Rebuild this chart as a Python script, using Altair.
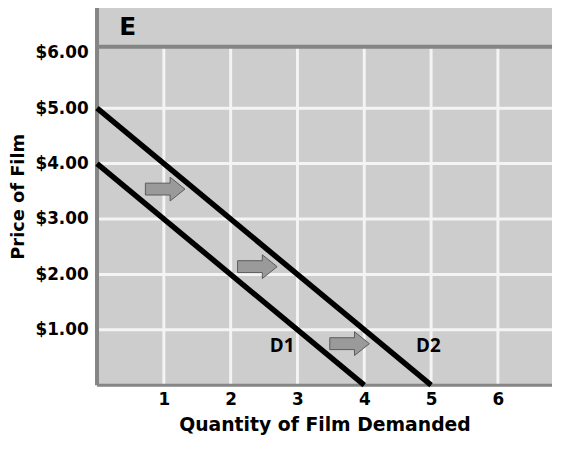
import altair as alt
import pandas as pd

# Demand curves (quantity, price)
d1_q = [0, 4]
d1_p = [4, 0]
d2_q = [0, 5]
d2_p = [5, 0]

# Shift arrows (quantity, price)
arrow_q = [1.02, 2.40, 3.78]
arrow_p = [3.54, 2.14, 0.75]

# Curve labels
label_text = ["D1", "D2"]
label_q = [2.77, 4.96]
label_p = [0.70, 0.70]

x_ticks = [1, 2, 3, 4, 5, 6]
y_ticks = [1, 2, 3, 4, 5, 6]
y_grid = [1, 2, 3, 4, 5]

XMAX = 6.81
YMAX = 6.82
BAND = 6.11

FONT = "DejaVu Sans"
FONT2 = "Open Sans"

xs = alt.Scale(domain=[0, XMAX], nice=False, zero=False)
ys = alt.Scale(domain=[0, YMAX], nice=False, zero=False)

axis_x = alt.Axis(
    values=x_ticks, format="d", grid=False, domain=False, ticks=False,
    labelPadding=7, title="Quantity of Film Demanded", titlePadding=8,
    titleFontSize=19,
)
axis_y = alt.Axis(
    values=y_ticks, format="$.2f", grid=False, domain=False, ticks=False,
    labelPadding=9, title="Price of Film", titlePadding=8,
    titleFontSize=18,
)


def X(field):
    return alt.X(field, type="quantitative", scale=xs, axis=axis_x)


def Y(field):
    return alt.Y(field, type="quantitative", scale=ys, axis=axis_y)


lines_df = pd.DataFrame({
    "q": d1_q + d2_q,
    "p": d1_p + d2_p,
    "curve": ["D1"] * len(d1_q) + ["D2"] * len(d2_q),
})

vgrid_df = pd.DataFrame({"q": x_ticks, "p0": [0] * len(x_ticks), "p1": [BAND] * len(x_ticks)})
hgrid_df = pd.DataFrame({"p": y_grid, "q0": [0] * len(y_grid), "q1": [XMAX] * len(y_grid)})

vgrid = alt.Chart(vgrid_df).mark_rule(color="#f4f4f4", strokeWidth=3).encode(
    x=X("q"), y=Y("p0"), y2="p1:Q"
)
hgrid = alt.Chart(hgrid_df).mark_rule(color="#f4f4f4", strokeWidth=3).encode(
    y=Y("p"), x=X("q0"), x2="q1:Q"
)

band_df = pd.DataFrame({"p0": [BAND - 0.035], "p1": [BAND + 0.035], "q0": [0], "q1": [XMAX]})
band = alt.Chart(band_df).mark_rect(color="#858585").encode(
    y=Y("p0"), y2="p1:Q", x=X("q0"), x2="q1:Q"
)
left_border = alt.Chart(
    pd.DataFrame({"q0": [-0.03], "q1": [0.03], "p0": [0], "p1": [YMAX]})
).mark_rect(color="#858585", clip=False).encode(
    x=X("q0"), x2="q1:Q", y=Y("p0"), y2="p1:Q"
)
bottom_border = alt.Chart(pd.DataFrame({"p": [0], "q0": [0], "q1": [XMAX]})).mark_rule(
    color="#858585", strokeWidth=3
).encode(y=Y("p"), x=X("q0"), x2="q1:Q")

lines = alt.Chart(lines_df).mark_line(color="black", strokeWidth=5.5).encode(
    x=X("q"), y=Y("p"), detail="curve:N"
)

arrow_path = "M-1,-0.3L0.25,-0.3L0.25,-0.6L1,0L0.25,0.6L0.25,0.3L-1,0.3Z"
arrows = alt.Chart(pd.DataFrame({"q": arrow_q, "p": arrow_p})).mark_point(
    shape=arrow_path, size=1600, filled=True, fill="#9a9a9a", stroke="#5a5a5a",
    strokeWidth=1, opacity=1,
).encode(x=X("q"), y=Y("p"))

labels = alt.Chart(pd.DataFrame({"t": label_text, "q": label_q, "p": label_p})).mark_text(
    font=FONT2, fontSize=19, fontWeight="bold", color="black", align="center", baseline="middle"
).encode(x=X("q"), y=Y("p"), text="t:N")

e_label = alt.Chart(pd.DataFrame({"t": ["E"], "q": [0.46], "p": [6.47]})).mark_text(
    font=FONT, fontSize=25, fontWeight=900, color="black", align="center", baseline="middle"
).encode(x=X("q"), y=Y("p"), text="t:N")

chart = alt.layer(
    vgrid, hgrid, band, left_border, bottom_border, lines, arrows, labels, e_label
).properties(
    width=460, height=382,
    padding={"left": 1, "top": -3, "right": 0, "bottom": 0},
    background="white",
).configure_view(
    fill="#cdcdcd", stroke=None
).configure_axis(
    labelFont=FONT, labelFontSize=17, labelFontWeight="bold", labelColor="black",
    titleFont=FONT, titleFontWeight="bold", titleColor="black",
)

chart.save("out.html", embed_options={"renderer": "svg", "actions": False})
